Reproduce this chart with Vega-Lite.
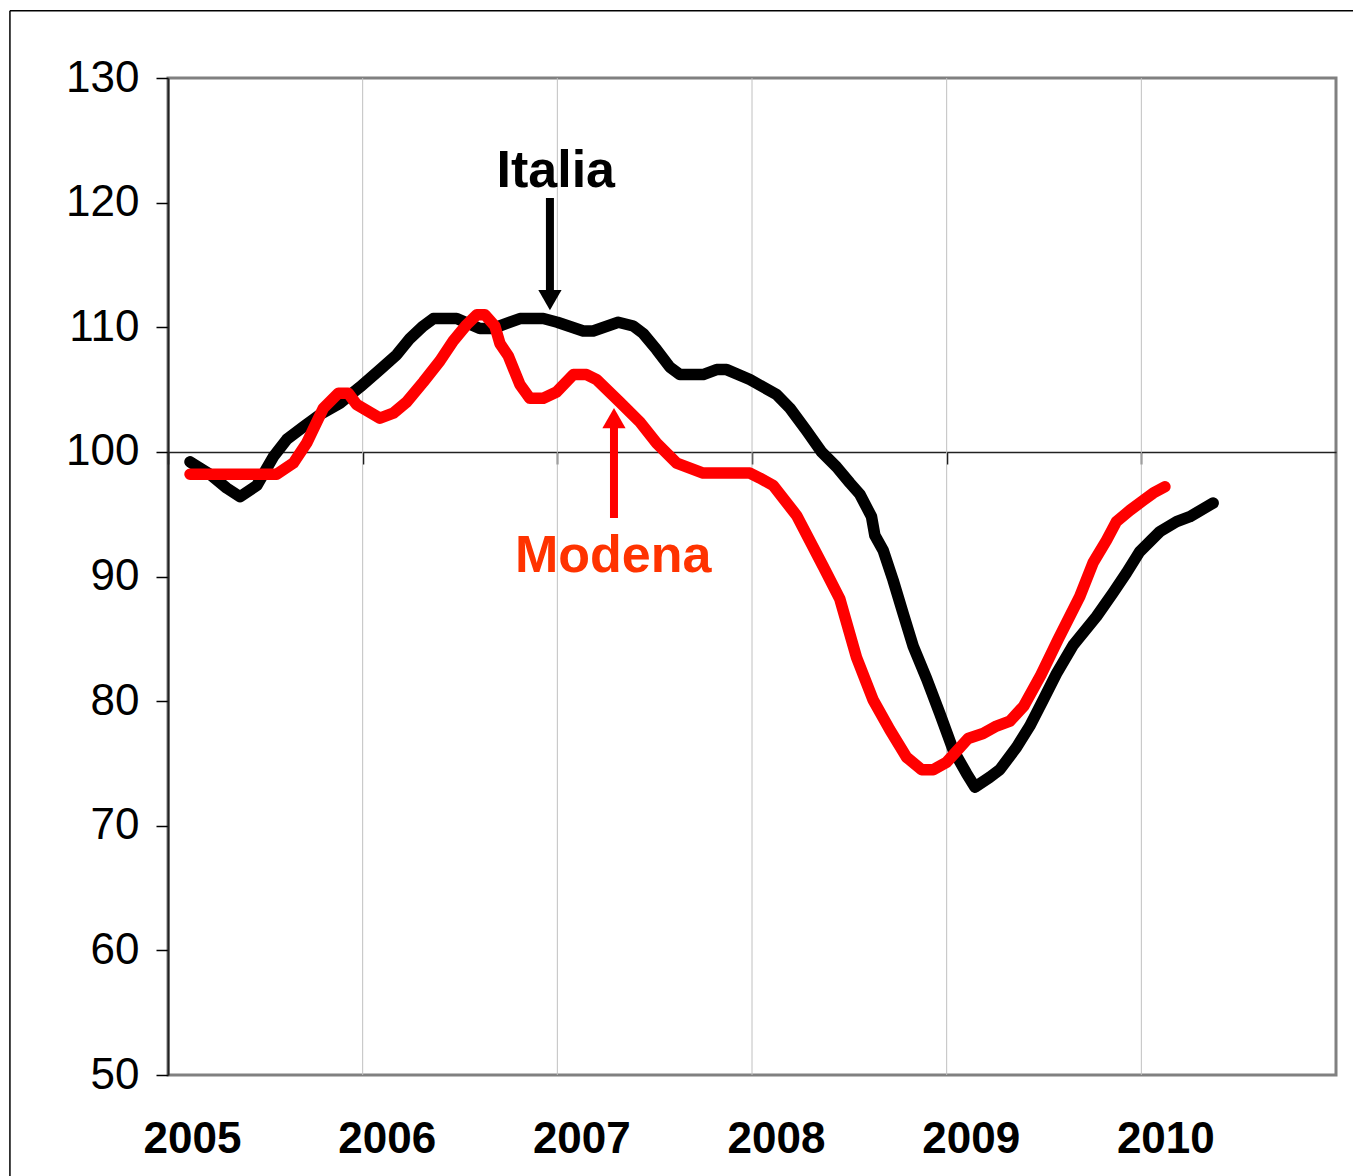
{
  "$schema": "https://vega.github.io/schema/vega-lite/v6.json",
  "width": 1168,
  "height": 997,
  "autosize": "none",
  "padding": {"left": 168, "top": 78, "right": 17, "bottom": 101},
  "background": "white",
  "config": {
    "view": {"stroke": "#808080", "strokeWidth": 3},
    "font": "Liberation Sans"
  },
  "datasets": {
    "grid": [{"year": 2006}, {"year": 2007}, {"year": 2008}, {"year": 2009}, {"year": 2010}],
    "series": [
      {"series": "Italia", "year": 2005.113, "value": 99.2},
      {"series": "Italia", "year": 2005.216, "value": 98.2},
      {"series": "Italia", "year": 2005.301, "value": 97.1},
      {"series": "Italia", "year": 2005.370, "value": 96.4},
      {"series": "Italia", "year": 2005.456, "value": 97.3},
      {"series": "Italia", "year": 2005.541, "value": 99.6},
      {"series": "Italia", "year": 2005.610, "value": 101.0},
      {"series": "Italia", "year": 2005.695, "value": 102.0},
      {"series": "Italia", "year": 2005.781, "value": 103.0},
      {"series": "Italia", "year": 2005.883, "value": 103.9},
      {"series": "Italia", "year": 2005.986, "value": 105.2},
      {"series": "Italia", "year": 2006.089, "value": 106.6},
      {"series": "Italia", "year": 2006.175, "value": 107.8},
      {"series": "Italia", "year": 2006.243, "value": 109.1},
      {"series": "Italia", "year": 2006.311, "value": 110.1},
      {"series": "Italia", "year": 2006.363, "value": 110.7},
      {"series": "Italia", "year": 2006.483, "value": 110.7},
      {"series": "Italia", "year": 2006.602, "value": 109.9},
      {"series": "Italia", "year": 2006.669, "value": 109.9},
      {"series": "Italia", "year": 2006.808, "value": 110.7},
      {"series": "Italia", "year": 2006.928, "value": 110.7},
      {"series": "Italia", "year": 2007.000, "value": 110.4},
      {"series": "Italia", "year": 2007.133, "value": 109.7},
      {"series": "Italia", "year": 2007.184, "value": 109.7},
      {"series": "Italia", "year": 2007.313, "value": 110.4},
      {"series": "Italia", "year": 2007.390, "value": 110.1},
      {"series": "Italia", "year": 2007.441, "value": 109.5},
      {"series": "Italia", "year": 2007.510, "value": 108.2},
      {"series": "Italia", "year": 2007.578, "value": 106.8},
      {"series": "Italia", "year": 2007.630, "value": 106.2},
      {"series": "Italia", "year": 2007.749, "value": 106.2},
      {"series": "Italia", "year": 2007.818, "value": 106.6},
      {"series": "Italia", "year": 2007.870, "value": 106.6},
      {"series": "Italia", "year": 2007.989, "value": 105.8},
      {"series": "Italia", "year": 2008.126, "value": 104.6},
      {"series": "Italia", "year": 2008.195, "value": 103.5},
      {"series": "Italia", "year": 2008.280, "value": 101.7},
      {"series": "Italia", "year": 2008.357, "value": 100.0},
      {"series": "Italia", "year": 2008.434, "value": 98.8},
      {"series": "Italia", "year": 2008.503, "value": 97.5},
      {"series": "Italia", "year": 2008.554, "value": 96.6},
      {"series": "Italia", "year": 2008.614, "value": 94.8},
      {"series": "Italia", "year": 2008.631, "value": 93.3},
      {"series": "Italia", "year": 2008.674, "value": 92.1},
      {"series": "Italia", "year": 2008.725, "value": 89.7},
      {"series": "Italia", "year": 2008.777, "value": 87.0},
      {"series": "Italia", "year": 2008.828, "value": 84.4},
      {"series": "Italia", "year": 2008.897, "value": 81.8},
      {"series": "Italia", "year": 2008.965, "value": 79.0},
      {"series": "Italia", "year": 2009.033, "value": 76.1},
      {"series": "Italia", "year": 2009.102, "value": 74.2},
      {"series": "Italia", "year": 2009.145, "value": 73.1},
      {"series": "Italia", "year": 2009.222, "value": 73.9},
      {"series": "Italia", "year": 2009.273, "value": 74.5},
      {"series": "Italia", "year": 2009.359, "value": 76.3},
      {"series": "Italia", "year": 2009.427, "value": 78.0},
      {"series": "Italia", "year": 2009.496, "value": 80.1},
      {"series": "Italia", "year": 2009.564, "value": 82.2},
      {"series": "Italia", "year": 2009.650, "value": 84.5},
      {"series": "Italia", "year": 2009.770, "value": 86.8},
      {"series": "Italia", "year": 2009.855, "value": 88.7},
      {"series": "Italia", "year": 2009.924, "value": 90.3},
      {"series": "Italia", "year": 2009.992, "value": 92.0},
      {"series": "Italia", "year": 2010.095, "value": 93.6},
      {"series": "Italia", "year": 2010.181, "value": 94.4},
      {"series": "Italia", "year": 2010.249, "value": 94.8},
      {"series": "Italia", "year": 2010.369, "value": 95.9},
      {"series": "Modena", "year": 2005.113, "value": 98.2},
      {"series": "Modena", "year": 2005.558, "value": 98.2},
      {"series": "Modena", "year": 2005.644, "value": 99.1},
      {"series": "Modena", "year": 2005.712, "value": 100.7},
      {"series": "Modena", "year": 2005.798, "value": 103.5},
      {"series": "Modena", "year": 2005.875, "value": 104.7},
      {"series": "Modena", "year": 2005.926, "value": 104.7},
      {"series": "Modena", "year": 2005.969, "value": 103.8},
      {"series": "Modena", "year": 2006.089, "value": 102.7},
      {"series": "Modena", "year": 2006.157, "value": 103.1},
      {"series": "Modena", "year": 2006.226, "value": 104.0},
      {"series": "Modena", "year": 2006.311, "value": 105.6},
      {"series": "Modena", "year": 2006.397, "value": 107.3},
      {"series": "Modena", "year": 2006.465, "value": 108.9},
      {"series": "Modena", "year": 2006.534, "value": 110.2},
      {"series": "Modena", "year": 2006.586, "value": 111.0},
      {"series": "Modena", "year": 2006.628, "value": 111.0},
      {"series": "Modena", "year": 2006.679, "value": 110.1},
      {"series": "Modena", "year": 2006.705, "value": 108.7},
      {"series": "Modena", "year": 2006.748, "value": 107.7},
      {"series": "Modena", "year": 2006.808, "value": 105.4},
      {"series": "Modena", "year": 2006.859, "value": 104.3},
      {"series": "Modena", "year": 2006.928, "value": 104.3},
      {"series": "Modena", "year": 2006.996, "value": 104.8},
      {"series": "Modena", "year": 2007.082, "value": 106.2},
      {"series": "Modena", "year": 2007.150, "value": 106.2},
      {"series": "Modena", "year": 2007.202, "value": 105.8},
      {"series": "Modena", "year": 2007.321, "value": 104.0},
      {"series": "Modena", "year": 2007.424, "value": 102.4},
      {"series": "Modena", "year": 2007.510, "value": 100.7},
      {"series": "Modena", "year": 2007.613, "value": 99.1},
      {"series": "Modena", "year": 2007.749, "value": 98.3},
      {"series": "Modena", "year": 2007.989, "value": 98.3},
      {"series": "Modena", "year": 2008.040, "value": 97.9},
      {"series": "Modena", "year": 2008.109, "value": 97.3},
      {"series": "Modena", "year": 2008.229, "value": 94.9},
      {"series": "Modena", "year": 2008.366, "value": 90.8},
      {"series": "Modena", "year": 2008.451, "value": 88.2},
      {"series": "Modena", "year": 2008.537, "value": 83.5},
      {"series": "Modena", "year": 2008.622, "value": 80.1},
      {"series": "Modena", "year": 2008.708, "value": 77.7},
      {"series": "Modena", "year": 2008.794, "value": 75.5},
      {"series": "Modena", "year": 2008.871, "value": 74.5},
      {"series": "Modena", "year": 2008.931, "value": 74.5},
      {"series": "Modena", "year": 2009.000, "value": 75.1},
      {"series": "Modena", "year": 2009.110, "value": 77.0},
      {"series": "Modena", "year": 2009.187, "value": 77.4},
      {"series": "Modena", "year": 2009.256, "value": 78.0},
      {"series": "Modena", "year": 2009.325, "value": 78.4},
      {"series": "Modena", "year": 2009.396, "value": 79.6},
      {"series": "Modena", "year": 2009.484, "value": 82.1},
      {"series": "Modena", "year": 2009.571, "value": 84.9},
      {"series": "Modena", "year": 2009.684, "value": 88.4},
      {"series": "Modena", "year": 2009.752, "value": 91.1},
      {"series": "Modena", "year": 2009.821, "value": 92.9},
      {"series": "Modena", "year": 2009.872, "value": 94.4},
      {"series": "Modena", "year": 2009.941, "value": 95.3},
      {"series": "Modena", "year": 2010.009, "value": 96.1},
      {"series": "Modena", "year": 2010.061, "value": 96.7},
      {"series": "Modena", "year": 2010.121, "value": 97.2}
    ],
    "one": [{"k": 1}]
  },
  "layer": [
    {
      "data": {"name": "grid"},
      "mark": {"type": "rule", "color": "#c0c0c0", "strokeWidth": 1},
      "encoding": {
        "x": {
          "field": "year", "type": "quantitative", "title": null,
          "scale": {"domain": [2005, 2011], "nice": false, "zero": false},
          "axis": {
            "title": null, "values": [2005, 2006, 2007, 2008, 2009, 2010], "format": "d",
            "orient": "bottom", "offset": -623, "grid": false,
            "domainColor": "#222222", "domainWidth": 1.3,
            "ticks": true, "tickColor": "black", "tickSize": 12, "tickWidth": 1.5,
            "labelFontSize": 44, "labelFontWeight": "bold", "labelColor": "black",
            "labelPadding": 653, "labelOffset": 24, "labelBaseline": "top",
            "labelFlush": false, "labelOverlap": false, "labelFont": "Liberation Sans"
          }
        }
      }
    },
    {
      "data": {"name": "series"},
      "mark": {"type": "line", "strokeWidth": 11.5, "strokeCap": "round", "strokeJoin": "round"},
      "encoding": {
        "x": {"field": "year", "type": "quantitative", "title": null},
        "y": {
          "field": "value", "type": "quantitative", "title": null,
          "scale": {"domain": [50, 130], "nice": false, "zero": false},
          "axis": {
            "title": null, "values": [50, 60, 70, 80, 90, 100, 110, 120, 130], "grid": false,
            "domainColor": "#222222", "domainWidth": 2,
            "tickColor": "black", "tickSize": 12, "tickWidth": 1.5,
            "labelFontSize": 44, "labelColor": "black", "labelPadding": 17,
            "labelFont": "Liberation Sans", "labelFlush": false, "labelOverlap": false
          }
        },
        "color": {
          "field": "series", "type": "nominal",
          "scale": {"domain": ["Italia", "Modena"], "range": ["#000000", "#ff0000"]},
          "legend": null
        }
      }
    },
    {
      "data": {"name": "one"},
      "mark": {"type": "rule", "color": "black", "strokeWidth": 8},
      "encoding": {
        "x": {"datum": 2006.962, "type": "quantitative", "title": null},
        "y": {"datum": 120.37, "type": "quantitative", "title": null},
        "y2": {"datum": 112.9}
      }
    },
    {
      "data": {"name": "one"},
      "mark": {"type": "point", "shape": "triangle-down", "filled": true, "color": "black", "size": 540, "opacity": 1, "strokeWidth": 0},
      "encoding": {
        "x": {"datum": 2006.962, "type": "quantitative", "title": null},
        "y": {"datum": 112.18, "type": "quantitative", "title": null}
      }
    },
    {
      "data": {"name": "one"},
      "mark": {"type": "rule", "color": "#ff0000", "strokeWidth": 8},
      "encoding": {
        "x": {"datum": 2007.291, "type": "quantitative", "title": null},
        "y": {"datum": 94.69, "type": "quantitative", "title": null},
        "y2": {"datum": 102.0}
      }
    },
    {
      "data": {"name": "one"},
      "mark": {"type": "point", "shape": "triangle-up", "filled": true, "color": "#ff0000", "size": 540, "opacity": 1, "strokeWidth": 0},
      "encoding": {
        "x": {"datum": 2007.291, "type": "quantitative", "title": null},
        "y": {"datum": 102.71, "type": "quantitative", "title": null}
      }
    },
    {
      "data": {"name": "one"},
      "mark": {"type": "text", "text": "Italia", "font": "Liberation Sans", "fontSize": 52, "fontWeight": "bold", "color": "black", "align": "center", "baseline": "alphabetic"},
      "encoding": {
        "x": {"datum": 2006.992, "type": "quantitative", "title": null},
        "y": {"datum": 121.28, "type": "quantitative", "title": null}
      }
    },
    {
      "data": {"name": "one"},
      "mark": {"type": "text", "text": "Modena", "font": "Liberation Sans", "fontSize": 52, "fontWeight": "bold", "color": "#ff3300", "align": "center", "baseline": "alphabetic"},
      "encoding": {
        "x": {"datum": 2007.287, "type": "quantitative", "title": null},
        "y": {"datum": 90.38, "type": "quantitative", "title": null}
      }
    },
    {
      "data": {"name": "one"},
      "mark": {"type": "rule", "color": "black", "strokeWidth": 1.5},
      "encoding": {
        "x": {"datum": 2004.188, "type": "quantitative", "title": null},
        "y": {"datum": 135.4, "type": "quantitative", "title": null},
        "y2": {"datum": 41}
      }
    },
    {
      "data": {"name": "one"},
      "mark": {"type": "rule", "color": "black", "strokeWidth": 1.5},
      "encoding": {
        "x": {"datum": 2004.188, "type": "quantitative", "title": null},
        "x2": {"datum": 2011.2},
        "y": {"datum": 135.4, "type": "quantitative", "title": null}
      }
    }
  ]
}
